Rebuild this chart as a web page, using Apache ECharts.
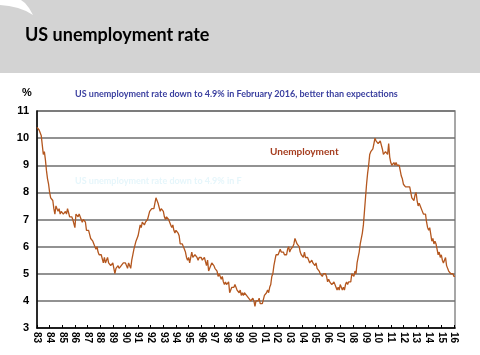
<!DOCTYPE html>
<html>
<head>
<meta charset="utf-8">
<script src="https://cdn.jsdelivr.net/npm/echarts@6/dist/echarts.min.js"></script>
<style>
html,body{margin:0;padding:0;background:#fff;}
#c{width:480px;height:355px;}
</style>
</head>
<body>
<div id="c"></div>
<script>
var yearLabels = ['83','84','85','86','87','88','89','90','91','92','93','94','95','96','97','98','99','00','01','02','03','04','05','06','07','08','09','10','11','12','13','14','15','16'];
var u1983 = [10.4,10.4,10.3,10.2,10.1,10.1,9.4,9.5,9.2,8.8,8.5,8.3];
var u1984 = [8.0,7.8,7.8,7.7,7.4,7.2,7.5,7.5,7.3,7.4,7.2,7.3];
var u1985 = [7.3,7.2,7.2,7.3,7.2,7.4,7.4,7.1,7.1,7.1,7.0,7.0];
var u1986 = [6.7,7.2,7.2,7.1,7.2,7.2,7.0,6.9,7.0,7.0,6.9,6.6];
var u1987 = [6.6,6.6,6.6,6.3,6.3,6.2,6.1,6.0,5.9,6.0,5.8,5.7];
var u1988 = [5.7,5.7,5.7,5.4,5.6,5.4,5.4,5.6,5.4,5.4,5.3,5.3];
var u1989 = [5.4,5.2,5.0,5.2,5.2,5.3,5.2,5.2,5.3,5.3,5.4,5.4];
var u1990 = [5.4,5.3,5.2,5.4,5.4,5.2,5.5,5.7,5.9,5.9,6.2,6.3];
var u1991 = [6.4,6.6,6.8,6.7,6.9,6.9,6.8,6.9,6.9,7.0,7.0,7.3];
var u1992 = [7.3,7.4,7.4,7.4,7.6,7.8,7.7,7.6,7.6,7.3,7.4,7.4];
var u1993 = [7.3,7.1,7.0,7.1,7.1,7.0,6.9,6.8,6.7,6.8,6.6,6.5];
var u1994 = [6.6,6.6,6.5,6.4,6.1,6.1,6.1,6.0,5.9,5.8,5.6,5.5];
var u1995 = [5.6,5.4,5.4,5.8,5.6,5.6,5.7,5.7,5.6,5.5,5.6,5.6];
var u1996 = [5.6,5.5,5.5,5.6,5.6,5.3,5.5,5.1,5.2,5.2,5.4,5.4];
var u1997 = [5.3,5.2,5.2,5.1,4.9,5.0,4.9,4.8,4.9,4.7,4.6,4.7];
var u1998 = [4.6,4.6,4.7,4.3,4.4,4.5,4.5,4.5,4.6,4.5,4.4,4.4];
var u1999 = [4.3,4.4,4.2,4.3,4.2,4.3,4.3,4.2,4.2,4.1,4.1,4.0];
var u2000 = [4.0,4.1,4.0,3.8,4.0,4.0,4.0,4.1,3.9,3.9,3.9,3.9];
var u2001 = [4.2,4.2,4.3,4.4,4.3,4.5,4.6,4.9,5.0,5.3,5.5,5.7];
var u2002 = [5.7,5.7,5.7,5.9,5.8,5.8,5.8,5.7,5.7,5.7,5.9,6.0];
var u2003 = [5.8,5.9,5.9,6.0,6.1,6.3,6.2,6.1,6.1,6.0,5.8,5.7];
var u2004 = [5.7,5.6,5.8,5.6,5.6,5.6,5.5,5.4,5.4,5.5,5.4,5.4];
var u2005 = [5.3,5.4,5.2,5.2,5.1,5.0,5.0,4.9,5.0,5.0,5.0,4.9];
var u2006 = [4.7,4.8,4.7,4.7,4.6,4.6,4.7,4.7,4.5,4.4,4.5,4.4];
var u2007 = [4.6,4.5,4.4,4.5,4.4,4.6,4.7,4.6,4.7,4.7,4.7,5.0];
var u2008 = [5.0,4.9,5.1,5.0,5.4,5.6,5.8,6.1,6.1,6.5,6.8,7.3];
var u2009 = [7.8,8.3,8.7,9.0,9.4,9.5,9.5,9.6,9.8,10.0,9.9,9.9];
var u2010 = [9.8,9.8,9.9,9.9,9.6,9.4,9.4,9.5,9.5,9.4,9.8,9.3];
var u2011 = [9.1,9.0,9.0,9.1,9.0,9.1,9.0,9.0,9.0,8.8,8.6,8.5];
var u2012 = [8.3,8.3,8.2,8.2,8.2,8.2,8.2,8.0,7.8,7.8,7.7,7.9];
var u2013 = [8.0,7.7,7.5,7.6,7.5,7.5,7.3,7.2,7.2,7.2,6.9,6.7];
var u2014 = [6.6,6.7,6.7,6.2,6.3,6.1,6.2,6.1,5.9,5.7,5.8,5.6];
var u2015 = [5.7,5.5,5.4,5.4,5.6,5.3,5.3,5.1,5.1,5.0,5.0,5.0];
var u2016 = [4.9,4.9];

var yearly = [u1983,u1984,u1985,u1986,u1987,u1988,u1989,u1990,u1991,u1992,u1993,u1994,u1995,u1996,u1997,u1998,u1999,u2000,u2001,u2002,u2003,u2004,u2005,u2006,u2007,u2008,u2009,u2010,u2011,u2012,u2013,u2014,u2015,u2016];
var categories = [], values = [];
yearly.forEach(function(arr, yi){
  arr.forEach(function(v, mi){
    categories.push(mi === 0 ? yearLabels[yi] : '');
    values.push(v);
  });
});

var chart = echarts.init(document.getElementById('c'), null, {renderer:'canvas'});
chart.setOption({
  animation:false,
  backgroundColor:'#ffffff',
  graphic:[
    {type:'rect', left:0, top:0, shape:{width:480, height:73}, style:{fill:'#d3d3d3'}, z:-1},
    {type:'polygon', shape:{points:[[0,0],[21,0],[25,3],[29,8],[33,15],[26,11],[18,8],[9,6],[0,5]]}, style:{fill:'#ffffff'}, z:0},
    {type:'text', left:25, top:26, style:{text:'US unemployment rate', font:'bold 18px Lato', fill:'#000'}},
    {type:'text', left:75, top:90, style:{text:'US unemployment rate down to 4.9% in February 2016, better than expectations', font:'bold 9px Lato', fill:'#3a3f9f'}},
    {type:'text', left:75, top:177, style:{text:'US unemployment rate down to 4.9% in F', font:'bold 9px Lato', fill:'#e6f6fb'}},
    {type:'text', left:22, top:87, style:{text:'%', font:'bold 11px Liberation Sans', fill:'#000'}},
    {type:'text', left:270, top:147, style:{text:'Unemployment', font:'bold 10px Lato', fill:'#a53d1f'}}
  ],
  grid:{left:37, right:25, top:111, bottom:27, show:true, borderColor:'#8a8a8a', borderWidth:1.5, backgroundColor:'transparent'},
  xAxis:{
    type:'category', data:categories, boundaryGap:false,
    axisLine:{lineStyle:{color:'#000', width:1.5}},
    axisTick:{inside:true, length:3, interval:function(i){return i%12===0;}, lineStyle:{color:'#000'}},
    axisLabel:{interval:function(i){return i%12===0;}, rotate:-90, margin:4, fontFamily:'Liberation Sans', fontWeight:'bold', fontSize:10, color:'#000'},
    splitLine:{show:false}
  },
  yAxis:{
    type:'value', min:3, max:11, interval:1,
    axisLine:{show:true, lineStyle:{color:'#000', width:1.5}},
    axisTick:{show:false},
    axisLabel:{fontFamily:'Liberation Sans', fontWeight:'bold', fontSize:11, color:'#000', margin:8},
    splitLine:{lineStyle:{color:'#6e6e6e', width:1.5}}
  },
  series:[{
    type:'line', data:values, showSymbol:false, symbol:'none',
    lineStyle:{color:'#b4571f', width:1.3},
    z:3
  }]
});
</script>
</body>
</html>
